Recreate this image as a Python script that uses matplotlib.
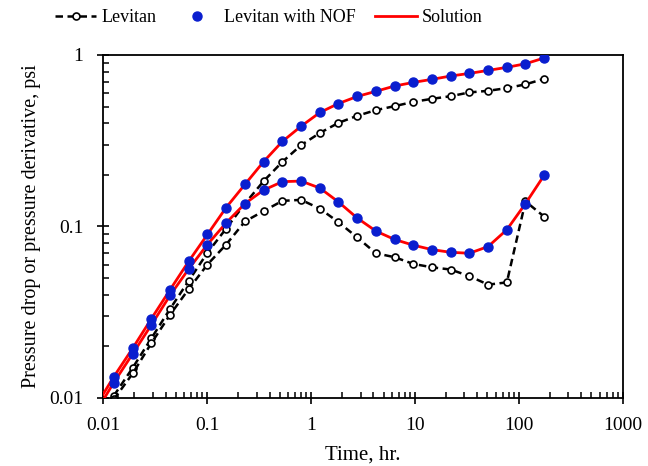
import numpy as np
import matplotlib.pyplot as plt

plt.rcParams['font.family'] = ['Liberation Serif', 'DejaVu Serif']

# time of the sampled points, hr
t = [0.0127, 0.0193, 0.0292, 0.0442, 0.0668, 0.101, 0.153, 0.232, 0.351, 0.531,
     0.804, 1.22, 1.84, 2.79, 4.22, 6.38, 9.66, 14.6, 22.1, 33.5,
     50.7, 76.7, 116, 176]

# Levitan (open circles)
lev_p = [0.0103, 0.0150, 0.0223, 0.0331, 0.0483, 0.0702, 0.0973, 0.136, 0.184, 0.238,
         0.298, 0.351, 0.402, 0.442, 0.477, 0.503, 0.533, 0.555, 0.575, 0.605,
         0.618, 0.641, 0.674, 0.727]
lev_d = [0.0098, 0.0139, 0.0209, 0.0306, 0.0432, 0.0600, 0.0785, 0.107, 0.123, 0.141,
         0.143, 0.127, 0.106, 0.0863, 0.0698, 0.0662, 0.0605, 0.0578, 0.0561, 0.0513,
         0.0458, 0.0472, 0.140, 0.114]

# Levitan with NOF (blue dots)
nof_p = [0.0133, 0.0195, 0.0290, 0.0428, 0.0627, 0.0898, 0.129, 0.176, 0.239, 0.313,
         0.384, 0.462, 0.521, 0.573, 0.614, 0.659, 0.692, 0.721, 0.754, 0.781,
         0.813, 0.847, 0.889, 0.961]
nof_d = [0.0123, 0.0181, 0.0267, 0.0397, 0.0566, 0.0785, 0.105, 0.136, 0.163, 0.1825,
         0.184, 0.1675, 0.139, 0.112, 0.094, 0.084, 0.0778, 0.0733, 0.0707, 0.0698,
         0.0764, 0.0957, 0.136, 0.1995]

# Solution (red line)
t_sol = [0.0100] + t
sol_p = [0.0105] + nof_p
sol_d = [0.0097] + nof_d

blue = '#0a1ecf'

fig = plt.figure(figsize=(6.48, 4.66), dpi=100)
ax = fig.add_axes([0.159, 0.146, 0.802, 0.736])

ax.plot(t, lev_p, '--o', color='black', lw=1.8, ms=5, mfc='white', mec='black', mew=1.2,
        dashes=(3, 1.8), label='Levitan')
ax.plot(t, lev_d, '--o', color='black', lw=1.8, ms=5, mfc='white', mec='black', mew=1.2,
        dashes=(3, 1.8))
ax.plot(t_sol, sol_p, '-', color='red', lw=2, label='Solution', zorder=3)
ax.plot(t_sol, sol_d, '-', color='red', lw=2, zorder=3)
ax.plot(t, nof_p, 'o', color=blue, ms=6.5, label='Levitan with NOF', zorder=4)
ax.plot(t, nof_d, 'o', color=blue, ms=6.5, zorder=4)

ax.set_xscale('log')
ax.set_yscale('log')
ax.set_xlim(0.01, 1000)
ax.set_ylim(0.01, 1)
ax.set_xticks([0.01, 0.1, 1, 10, 100, 1000])
ax.set_xticklabels(['0.01', '0.1', '1', '10', '100', '1000'])
ax.set_yticks([0.01, 0.1, 1])
ax.set_yticklabels(['0.01', '0.1', '1'])
ax.tick_params(which='major', direction='inout', length=8, width=1.2, labelsize=14, pad=10)
ax.tick_params(which='minor', direction='in', length=4, width=1.1)
for s in ax.spines.values():
    s.set_linewidth(1.3)

ax.set_xlabel('Time, hr.', fontsize=15, labelpad=8)
ax.set_ylabel('Pressure drop or pressure derivative, psi', fontsize=14.5, labelpad=6)

h, l = ax.get_legend_handles_labels()
order = [0, 2, 1]
fig.legend([h[i] for i in order], [l[i] for i in order], loc='center',
           bbox_to_anchor=(0.415, 0.962), ncol=3, frameon=False, fontsize=13,
           numpoints=1, handlelength=2.3, handletextpad=0.3, columnspacing=1.1)

fig.savefig('out.png', dpi=100)
